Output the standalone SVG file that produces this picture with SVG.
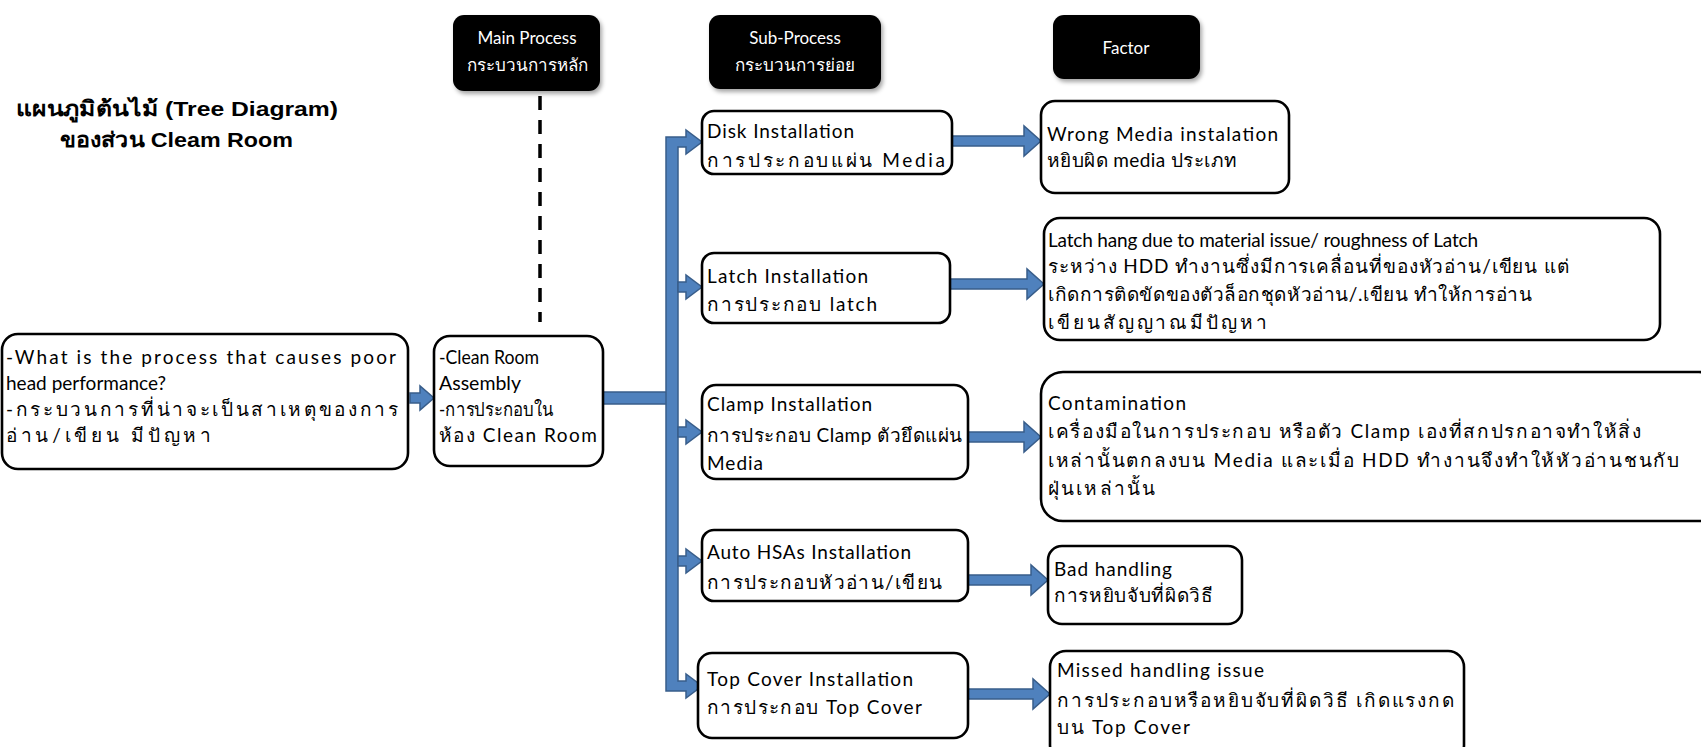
<svg xmlns="http://www.w3.org/2000/svg" width="1701" height="747" viewBox="0 0 1701 747">
  <style>
    .box { fill: #ffffff; stroke: #000000; stroke-width: 2.6; }
    .head { fill: #000000; }
    .t { font-family: Lato, "Liberation Sans", "Noto Sans", sans-serif; font-size: 19px; fill: #000000; }
    .ht { font-family: Lato, "Liberation Sans", "Noto Sans", sans-serif; font-size: 17px; fill: #ffffff; text-anchor: middle; }
    .title { font-family: "Liberation Sans", "Noto Sans", "DejaVu Sans", sans-serif; font-size: 21px; font-weight: bold; fill: #000000; }
    .arrow { fill: #4f81bd; stroke: #385d8a; stroke-width: 1.5; }
    .dash { stroke: #000000; stroke-width: 3.5; stroke-dasharray: 14 10; fill: none; }
  </style>
  <defs>
    <filter id="shadow" x="-10%" y="-10%" width="130%" height="140%">
      <feDropShadow dx="2" dy="3" stdDeviation="2" flood-color="#000" flood-opacity="0.35"/>
    </filter>
  </defs>

  <!-- title -->
  <g id="title">
    <text class="title" x="16" y="116" textLength="322" lengthAdjust="spacingAndGlyphs">แผนภูมิต้นไม้ (Tree Diagram)</text>
    <text class="title" x="60" y="147" textLength="233" lengthAdjust="spacingAndGlyphs">ของส่วน Cleam Room</text>
  </g>

  <!-- column headers -->
  <g id="head-main">
    <rect class="head" x="453" y="15" width="147" height="76" rx="11" filter="url(#shadow)"/>
    <text class="ht" x="527" y="44">Main Process</text>
    <text class="ht" x="527" y="71">กระบวนการหลัก</text>
  </g>
  <g id="head-sub">
    <rect class="head" x="709" y="15" width="172" height="74" rx="11" filter="url(#shadow)"/>
    <text class="ht" x="795" y="44">Sub-Process</text>
    <text class="ht" x="795" y="71">กระบวนการย่อย</text>
  </g>
  <g id="head-factor">
    <rect class="head" x="1053" y="15" width="147" height="64" rx="11" filter="url(#shadow)"/>
    <text class="ht" x="1126" y="54">Factor</text>
  </g>

  <!-- connectors -->
  <g id="connectors">
    <line class="dash" x1="540" y1="96" x2="540" y2="322"/>
    <!-- question to main process -->
    <path class="arrow" d="M410,393 H420 V386 L434,398 L420,410 V403 H410 Z"/>
    <!-- main process to trunk -->
    <rect class="arrow" x="603" y="392" width="66" height="12"/>
    <!-- trunk with first and last branch -->
    <path class="arrow" d="M666,137 H686 V130 L702,142 L686,154 V147 H678 V681 H686 V674 L702,686 L686,698 V691 H666 Z"/>
    <path class="arrow" d="M678,282 H686 V275 L702,287 L686,299 V292 H678 Z"/>
    <path class="arrow" d="M678,427 H686 V420 L702,432 L686,444 V437 H678 Z"/>
    <path class="arrow" d="M678,556 H686 V549 L702,561 L686,573 V566 H678 Z"/>
    <!-- sub-process to factor -->
    <path class="arrow" d="M952,136 H1024 V126 L1041,141 L1024,156 V146 H952 Z"/>
    <path class="arrow" d="M950,279 H1027 V269 L1044,284 L1027,299 V289 H950 Z"/>
    <path class="arrow" d="M968,432 H1024 V422 L1041,437 L1024,452 V442 H968 Z"/>
    <path class="arrow" d="M968,575 H1031 V565 L1048,580 L1031,595 V585 H968 Z"/>
    <path class="arrow" d="M968,689 H1033 V679 L1050,694 L1033,709 V699 H968 Z"/>
  </g>

  <!-- question -->
  <g id="question">
    <rect class="box" x="2" y="334" width="406" height="135" rx="16"/>
    <text class="t" x="6" y="364" textLength="390" lengthAdjust="spacing">-What is the process that causes poor</text>
    <text class="t" x="6" y="390" textLength="160" lengthAdjust="spacing">head performance?</text>
    <text class="t" x="6" y="416" textLength="392" lengthAdjust="spacing">-กระบวนการที่น่าจะเป็นสาเหตุของการ</text>
    <text class="t" x="6" y="442" textLength="205" lengthAdjust="spacing">อ่าน/เขียน มีปัญหา</text>
  </g>

  <!-- main process -->
  <g id="main-process">
    <rect class="box" x="434" y="336" width="169" height="130" rx="16"/>
    <text class="t" x="439" y="364" textLength="100" lengthAdjust="spacingAndGlyphs">-Clean Room</text>
    <text class="t" x="439" y="390" textLength="82" lengthAdjust="spacingAndGlyphs">Assembly</text>
    <text class="t" x="439" y="416" textLength="114" lengthAdjust="spacingAndGlyphs">-การประกอบใน</text>
    <text class="t" x="439" y="442" textLength="158" lengthAdjust="spacing">ห้อง Clean Room</text>
  </g>

  <!-- sub-processes -->
  <g id="sub-disk">
    <rect class="box" x="702" y="111" width="250" height="63" rx="12"/>
    <text class="t" x="707" y="138" textLength="147" lengthAdjust="spacing">Disk Installation</text>
    <text class="t" x="707" y="167" textLength="238" lengthAdjust="spacing">การประกอบแผ่น Media</text>
  </g>
  <g id="sub-latch">
    <rect class="box" x="702" y="253" width="248" height="70" rx="12"/>
    <text class="t" x="707" y="283" textLength="161" lengthAdjust="spacing">Latch Installation</text>
    <text class="t" x="707" y="311" textLength="170" lengthAdjust="spacing">การประกอบ latch</text>
  </g>
  <g id="sub-clamp">
    <rect class="box" x="702" y="385" width="266" height="94" rx="14"/>
    <text class="t" x="707" y="411" textLength="165" lengthAdjust="spacing">Clamp Installation</text>
    <text class="t" x="707" y="442" textLength="255" lengthAdjust="spacing">การประกอบ Clamp ตัวยึดแผ่น</text>
    <text class="t" x="707" y="470" textLength="56" lengthAdjust="spacing">Media</text>
  </g>
  <g id="sub-hsa">
    <rect class="box" x="702" y="530" width="266" height="71" rx="12"/>
    <text class="t" x="707" y="559" textLength="204" lengthAdjust="spacing">Auto HSAs Installation</text>
    <text class="t" x="707" y="589" textLength="235" lengthAdjust="spacing">การประกอบหัวอ่าน/เขียน</text>
  </g>
  <g id="sub-cover">
    <rect class="box" x="698" y="653" width="270" height="85" rx="14"/>
    <text class="t" x="707" y="686" textLength="206" lengthAdjust="spacing">Top Cover Installation</text>
    <text class="t" x="707" y="714" textLength="215" lengthAdjust="spacing">การประกอบ Top Cover</text>
  </g>

  <!-- factors -->
  <g id="factor-media">
    <rect class="box" x="1041" y="101" width="248" height="92" rx="14"/>
    <text class="t" x="1047" y="141" textLength="231" lengthAdjust="spacing">Wrong Media instalation</text>
    <text class="t" x="1047" y="167" textLength="190" lengthAdjust="spacing">หยิบผิด media ประเภท</text>
  </g>
  <g id="factor-latch">
    <rect class="box" x="1044" y="218" width="616" height="122" rx="16"/>
    <text class="t" x="1048" y="247" textLength="430" lengthAdjust="spacing">Latch hang due to material issue/ roughness of Latch</text>
    <text class="t" x="1048" y="273" textLength="521" lengthAdjust="spacing">ระหว่าง HDD ทำงานซึ่งมีการเคลื่อนที่ของหัวอ่าน/เขียน แต่</text>
    <text class="t" x="1048" y="301" textLength="484" lengthAdjust="spacing">เกิดการติดขัดของตัวล็อกชุดหัวอ่าน/.เขียน ทำให้การอ่าน</text>
    <text class="t" x="1048" y="329" textLength="219" lengthAdjust="spacing">เขียนสัญญาณมีปัญหา</text>
  </g>
  <g id="factor-clamp">
    <rect class="box" x="1041" y="372" width="680" height="149" rx="22"/>
    <text class="t" x="1048" y="410" textLength="138" lengthAdjust="spacing">Contamination</text>
    <text class="t" x="1048" y="438" textLength="593" lengthAdjust="spacing">เครื่องมือในการประกอบ หรือตัว Clamp เองที่สกปรกอาจทำให้สิ่ง</text>
    <text class="t" x="1048" y="467" textLength="631" lengthAdjust="spacing">เหล่านั้นตกลงบน Media และเมื่อ HDD ทำงานจึงทำให้หัวอ่านชนกับ</text>
    <text class="t" x="1048" y="495" textLength="107" lengthAdjust="spacing">ฝุ่นเหล่านั้น</text>
  </g>
  <g id="factor-hsa">
    <rect class="box" x="1048" y="546" width="194" height="78" rx="14"/>
    <text class="t" x="1054" y="576" textLength="118" lengthAdjust="spacing">Bad handling</text>
    <text class="t" x="1054" y="602" textLength="159" lengthAdjust="spacing">การหยิบจับที่ผิดวิธี</text>
  </g>
  <g id="factor-cover">
    <rect class="box" x="1050" y="651" width="414" height="110" rx="16"/>
    <text class="t" x="1057" y="677" textLength="207" lengthAdjust="spacing">Missed handling issue</text>
    <text class="t" x="1057" y="707" textLength="397" lengthAdjust="spacing">การประกอบหรือหยิบจับที่ผิดวิธี เกิดแรงกด</text>
    <text class="t" x="1057" y="734" textLength="133" lengthAdjust="spacing">บน Top Cover</text>
  </g>
</svg>
